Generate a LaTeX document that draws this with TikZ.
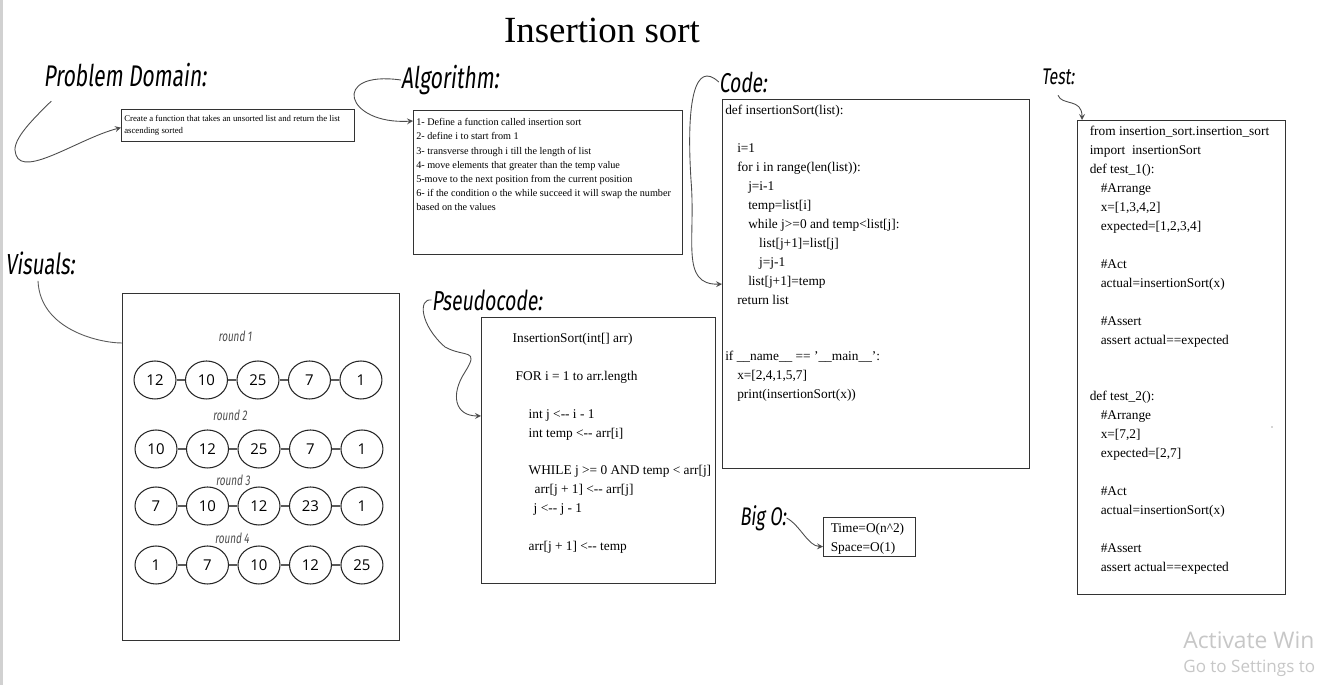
\documentclass[tikz,border=0pt]{standalone}
\usepackage{fontspec}
\setmainfont{Liberation Serif}
\newfontfamily\handfont{Fira Sans}[FakeStretch=0.7,FakeSlant=0.12]
\newfontfamily\numfont{Open Sans}
\usetikzlibrary{shapes.geometric, arrows}
\tikzstyle{textbox} = [
    draw=black!80,
    line width=0.7pt,
    anchor=north west,
    inner xsep=1.5pt,
    inner ysep=3pt,
    align=left
]
\tikzstyle{codefont} = [font=\fontsize{7.6}{10.8}\selectfont]
\tikzstyle{hand} = [inner sep=0pt, text=black]
\tikzstyle{numcircle} = [
    ellipse,
    draw=black!85,
    line width=0.6pt,
    minimum width=0.84cm,
    minimum height=0.76cm,
    inner sep=0pt,
    font=\numfont\fontsize{8.5}{8.5}\selectfont
]
\tikzstyle{roundlabel} = [inner sep=0pt, text=black!70, font=\handfont\fontsize{8}{8}\selectfont]
\tikzstyle{link} = [draw=black!65, line width=0.6pt]
\tikzstyle{arrow} = [draw=black!70, line width=0.5pt, ->, >=stealth]

\begin{document}
\begin{tikzpicture}[x=0.02cm, y=-0.02cm, node distance=1.03cm]

\fill[white] (0,0) rectangle (1323,685);
\useasboundingbox (0,0) rectangle (1323,685);
\fill[black!18] (0,0) rectangle (3,685);

\node (title) at (602,30) {\fontsize{21}{21}\selectfont Insertion sort};

% problem domain
\node (problab) [hand, font=\handfont\fontsize{17}{17}\selectfont] at (125,75) {Problem Domain:};
\node (prob) [textbox, font=\fontsize{5}{6.8}\selectfont] at (121,109)
{\parbox[t][0.43cm][t]{4.555cm}{Create a function that takes an unsorted list and return the list\\ascending sorted}};

% algorithm
\node (algolab) [hand, font=\handfont\fontsize{17}{17}\selectfont] at (450,80) {Algorithm:};
\node (algo) [textbox, font=\fontsize{5.8}{8.1}\selectfont] at (413,110)
{\parbox[t][2.67cm][t]{5.275cm}{\vspace*{0.05cm}1- Define a function called insertion sort\\
2- define i to start from 1\\
3- transverse through i till the length of list\\
4- move elements that greater than the temp value\\
5-move to the next position from the current position\\
6- if the condition o the while succeed it will swap the number\\
based on the values}};

% code
\node (codelab) [hand, font=\handfont\fontsize{15.5}{15.5}\selectfont] at (743,82) {Code:};
\node (code) [textbox, codefont] at (722,99)
{\parbox[t][7.17cm][t]{6.035cm}{def insertionSort(list):\\[10.8pt]
\hspace*{0.24cm}i=1\\
\hspace*{0.24cm}for i in range(len(list)):\\
\hspace*{0.46cm}j=i-1\\
\hspace*{0.46cm}temp=list[i]\\
\hspace*{0.46cm}while j>=0 and temp<list[j]:\\
\hspace*{0.68cm}list[j+1]=list[j]\\
\hspace*{0.68cm}j=j-1\\
\hspace*{0.46cm}list[j+1]=temp\\
\hspace*{0.24cm}return list\\[21.6pt]
if \_\_name\_\_ == '\_\_main\_\_':\\
\hspace*{0.24cm}x=[2,4,1,5,7]\\
\hspace*{0.24cm}print(insertionSort(x))}};

% test
\node (testlab) [hand, font=\handfont\fontsize{12.9}{12.9}\selectfont] at (1058,77) {Test:};
\node (test) [textbox, codefont] at (1077,120)
{\parbox[t][9.27cm][t]{4.055cm}{\setlength\leftskip{0.19cm}from insertion\_sort.insertion\_sort\\
import\ \ insertionSort\\
def test\_1():\\
\hspace*{0.22cm}\#Arrange\\
\hspace*{0.22cm}x=[1,3,4,2]\\
\hspace*{0.22cm}expected=[1,2,3,4]\\[10.8pt]
\hspace*{0.22cm}\#Act\\
\hspace*{0.22cm}actual=insertionSort(x)\\[10.8pt]
\hspace*{0.22cm}\#Assert\\
\hspace*{0.22cm}assert actual==expected\\[21.6pt]
def test\_2():\\
\hspace*{0.22cm}\#Arrange\\
\hspace*{0.22cm}x=[7,2]\\
\hspace*{0.22cm}expected=[2,7]\\[10.8pt]
\hspace*{0.22cm}\#Act\\
\hspace*{0.22cm}actual=insertionSort(x)\\[10.8pt]
\hspace*{0.22cm}\#Assert\\
\hspace*{0.22cm}assert actual==expected}};
\fill[black!70] (1272,427) circle (0.7);

% pseudocode
\node (pseudolab) [hand, font=\handfont\fontsize{15.6}{15.6}\selectfont] at (487,300) {Pseudocode:};
\node (pseudo) [textbox, codefont] at (481,317)
{\parbox[t][5.11cm][t]{4.575cm}{\setlength\leftskip{0.57cm}\vspace*{0.2cm}InsertionSort(int[] arr)\\[10.8pt]
\hspace*{0.06cm}FOR i = 1 to arr.length\\[10.8pt]
\hspace*{0.32cm}int j <-{}- i - 1\\
\hspace*{0.32cm}int temp <-{}- arr[i]\\[10.8pt]
\hspace*{0.32cm}\mbox{WHILE j >= 0 AND temp < arr[j]}\\
\hspace*{0.44cm}arr[j + 1] <-{}- arr[j]\\
\hspace*{0.42cm}j <-{}- j - 1\\[10.8pt]
\hspace*{0.32cm}arr[j + 1] <-{}- temp}};

% big O
\node (biglab) [hand, font=\handfont\fontsize{14.5}{14.5}\selectfont] at (763,518) {Big O:};
\node (bigo) [textbox, codefont] at (823,517)
{\parbox[t][0.57cm][t]{1.735cm}{\setlength\leftskip{0.09cm}Time=O(n\textasciicircum 2)\\Space=O(1)}};

% visuals
\node (vislab) [hand, font=\handfont\fontsize{16.5}{16.5}\selectfont] at (40,263) {Visuals:};
\node (visual) [draw=black!80, line width=0.7pt, anchor=north west, inner sep=0pt,
    minimum width=5.54cm, minimum height=6.94cm] at (122,293) {};

\node (round1) [roundlabel] at (235,336) {round 1};
\node (a1) [numcircle] at (155,380) {12};
\node (a2) [numcircle, right of=a1] {10};
\node (a3) [numcircle, right of=a2] {25};
\node (a4) [numcircle, right of=a3] {7};
\node (a5) [numcircle, right of=a4] {1};

\node (round2) [roundlabel] at (230,415) {round 2};
\node (b1) [numcircle] at (156,449) {10};
\node (b2) [numcircle, right of=b1] {12};
\node (b3) [numcircle, right of=b2] {25};
\node (b4) [numcircle, right of=b3] {7};
\node (b5) [numcircle, right of=b4] {1};

\node (round3) [roundlabel] at (233,480) {round 3};
\node (c1) [numcircle] at (156,506) {7};
\node (c2) [numcircle, right of=c1] {10};
\node (c3) [numcircle, right of=c2] {12};
\node (c4) [numcircle, right of=c3] {23};
\node (c5) [numcircle, right of=c4] {1};

\node (round4) [roundlabel] at (232,538) {round 4};
\node (d1) [numcircle] at (156,565) {1};
\node (d2) [numcircle, right of=d1] {7};
\node (d3) [numcircle, right of=d2] {10};
\node (d4) [numcircle, right of=d3] {12};
\node (d5) [numcircle, right of=d4] {25};

\draw [link] (a1) -- (a2) (a2) -- (a3) (a3) -- (a4) (a4) -- (a5);
\draw [link] (b1) -- (b2) (b2) -- (b3) (b3) -- (b4) (b4) -- (b5);
\draw [link] (c1) -- (c2) (c2) -- (c3) (c3) -- (c4) (c4) -- (c5);
\draw [link] (d1) -- (d2) (d2) -- (d3) (d3) -- (d4) (d4) -- (d5);

% connectors
\draw [arrow] ([xshift=0.16cm,yshift=-0.28cm]problab.south west)
    .. controls (30,122) and (10,142) .. (16,155)
    .. controls (24,178) and (80,138) .. ([yshift=-0.04cm]prob.west);
\draw [arrow] (algolab.west) .. controls (330,70) and (345,125) .. ([yshift=-0.22cm]algo.north west);
\draw [arrow] (codelab.west) .. controls (695,60) and (686,100) .. (691,180)
    .. controls (696,240) and (680,285) .. (code.west);
\draw [arrow] ([yshift=-0.2cm]testlab.south) .. controls (1062,106) and (1082,98) .. ([xshift=0.1cm]test.north west);
\draw [link, line width=0.5pt] ([xshift=-0.04cm,yshift=-0.12cm]vislab.south)
    .. controls (40,330) and (100,343) .. ([yshift=-1cm]visual.north west);
\draw [arrow] (pseudolab.west) .. controls (418,298) and (420,325) .. (445,347)
    .. controls (465,358) and (480,348) .. (465,372)
    .. controls (450,395) and (455,416) .. ([yshift=-1.98cm]pseudo.north west);
\draw [arrow] (biglab.east) .. controls (800,525) and (808,546) .. ([yshift=-0.19cm]bigo.west);

% watermark
\node (winact) [anchor=west, inner sep=0pt, text=black!22, font=\numfont\fontsize{13}{13}\selectfont] at (1183,640) {Activate Win};
\node (wingo) [anchor=west, inner sep=0pt, text=black!22, font=\numfont\fontsize{9.7}{9.7}\selectfont] at (1183,668) {Go to Settings to};

\end{tikzpicture}
\end{document}
